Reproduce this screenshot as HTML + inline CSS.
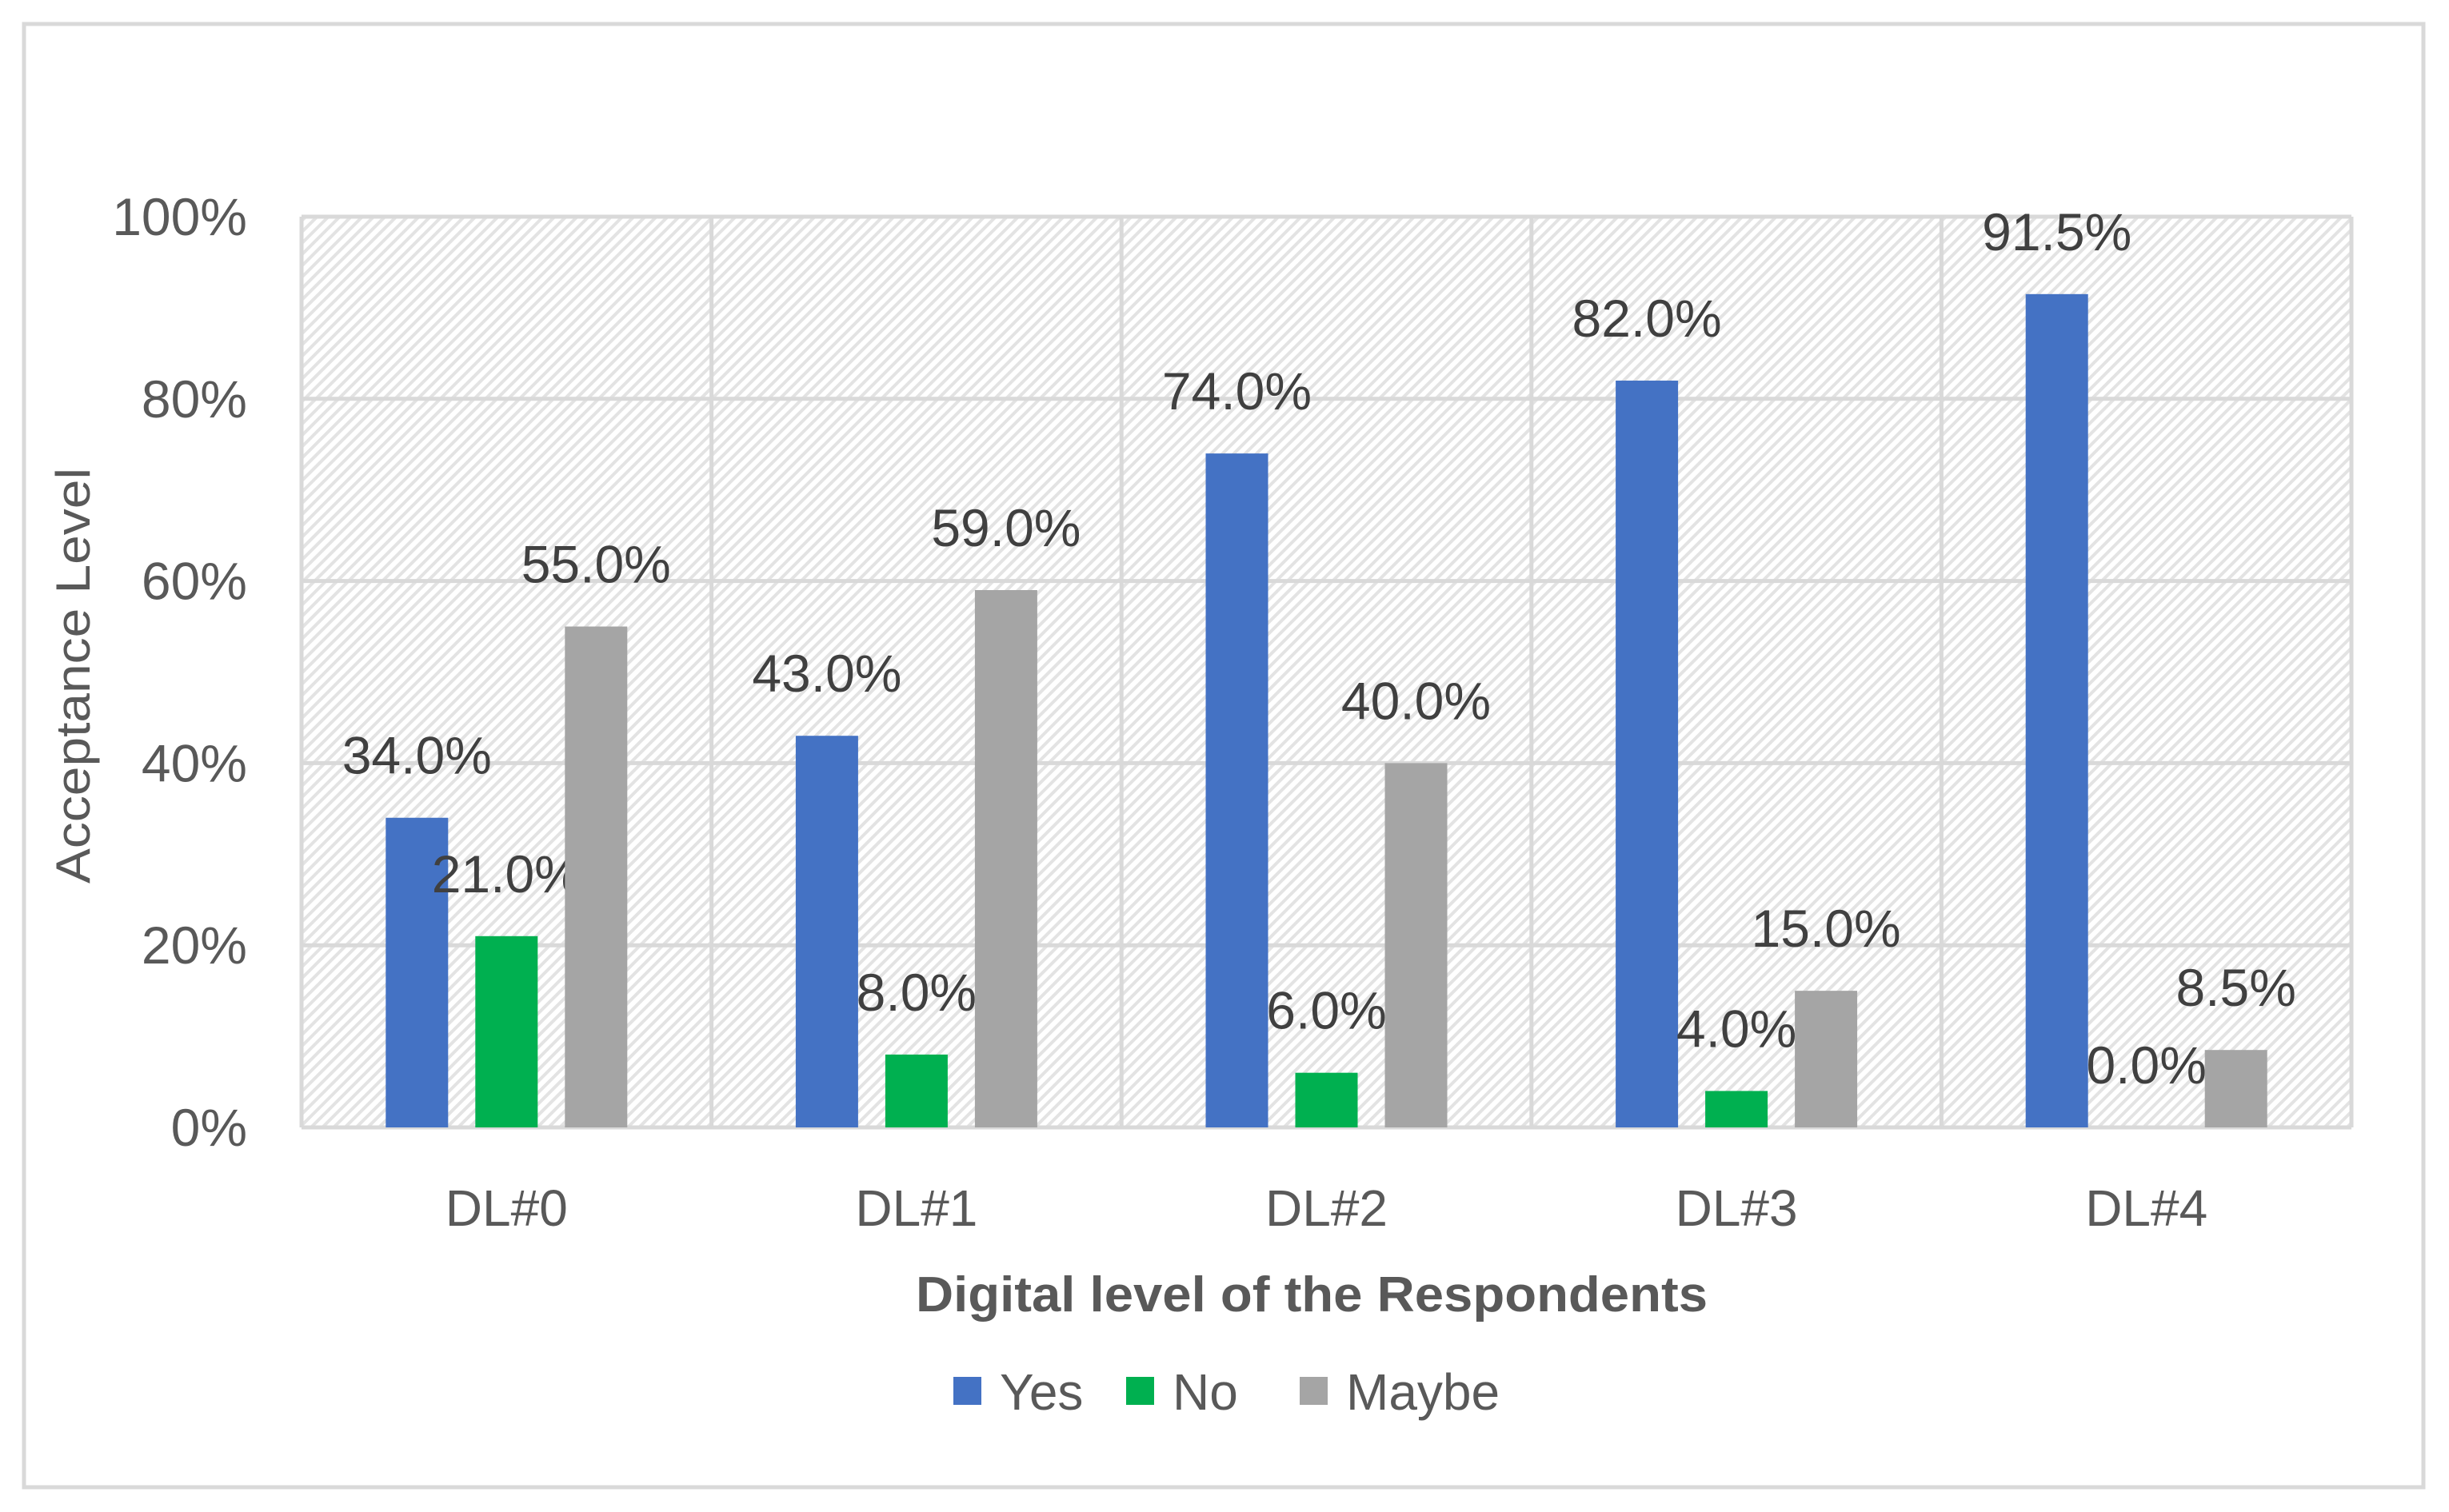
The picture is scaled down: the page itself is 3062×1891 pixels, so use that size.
<!DOCTYPE html>
<html><head><meta charset="utf-8"><style>
html,body{margin:0;padding:0;background:#fff}
svg{display:block}
text{font-family:"Liberation Sans",sans-serif}
</style></head><body>
<svg id="chart" width="3062" height="1891" viewBox="0 0 3062 1891" xmlns="http://www.w3.org/2000/svg">
<defs>
<pattern id="hatch" patternUnits="userSpaceOnUse" width="10" height="10" patternTransform="rotate(45)">
<rect width="10" height="10" fill="#ffffff"/>
<rect width="4" height="10" fill="#e3e3e3"/>
</pattern>
</defs>
<rect x="30" y="30" width="3000" height="1830" fill="#fff" stroke="#d9d9d9" stroke-width="5"/>
<g id="plot"></g>
</svg>
<script>
const categories = ["DL#0","DL#1","DL#2","DL#3","DL#4"];
const yesValues = [34.0,43.0,74.0,82.0,91.5];
const noValues = [21.0,8.0,6.0,4.0,0.0];
const maybeValues = [55.0,59.0,40.0,15.0,8.5];
const yTicks = [0,20,40,60,80,100];
const seriesNames = ["Yes","No","Maybe"];
const seriesColors = ["#4472c4","#00b050","#a5a5a5"];

const NS="http://www.w3.org/2000/svg";
const svg=document.getElementById('chart');
const g=document.getElementById('plot');
const L=377,R=2940,T=271,B=1410;
const yScale=v=>B-(v/100)*(B-T);
const catW=(R-L)/categories.length;
const xCenter=i=>L+catW*(i+0.5);
const barW=78, step=112;
function mk(tag,attrs,parent){const e=document.createElementNS(NS,tag);for(const k in attrs)e.setAttribute(k,attrs[k]);(parent||g).appendChild(e);return e;}

const bg=mk('rect',{x:L,y:T,width:R-L,height:B-T,fill:'url(#hatch)'});


yTicks.forEach(t=>{
  const y=yScale(t);
  const ln=mk('line',{x1:L,x2:R,y1:y,y2:y,stroke:'#d9d9d9','stroke-width':5});
  
  
  const tx=mk('text',{x:L-68,y:y+23,'text-anchor':'end','font-size':66,fill:'#595959'});
  tx.textContent=t+'%';
  
  
});
for(let i=0;i<=categories.length;i++){
  const x=L+catW*i;
  const ln=mk('line',{x1:x,x2:x,y1:T,y2:B,stroke:'#d9d9d9','stroke-width':5});
  
  
}
const series=[yesValues,noValues,maybeValues];
categories.forEach((c,i)=>{
  series.forEach((vals,s)=>{
    const cx=xCenter(i)+(s-1)*step;
    const v=vals[i];
    const r=mk('rect',{x:cx-barW/2,y:yScale(v),width:barW,height:B-yScale(v),fill:seriesColors[s]});
    
    
    const lb=mk('text',{x:cx,y:yScale(v)-55,'text-anchor':'middle','font-size':66,fill:'#404040'});
    lb.textContent=v.toFixed(1)+'%';
    
    
  });
  const xl=mk('text',{x:xCenter(i),y:1533,'text-anchor':'middle','font-size':64,fill:'#595959'});
  xl.textContent=c;
  
  
});
const yt=mk('text',{x:0,y:0,'text-anchor':'middle','font-size':60,fill:'#595959',transform:'translate(112,845) rotate(-90)',textLength:520,lengthAdjust:'spacingAndGlyphs'},svg);
yt.textContent='Acceptance Level';


const xt=mk('text',{x:1640,y:1640,'text-anchor':'middle','font-size':62,'font-weight':'bold',fill:'#595959',textLength:990,lengthAdjust:'spacingAndGlyphs'},svg);
xt.textContent='Digital level of the Respondents';


const legX=[1192,1408,1625];
seriesNames.forEach((n,s)=>{
  const sq=mk('rect',{x:legX[s],y:1722,width:35,height:35,fill:seriesColors[s]},svg);
  
  
  const t=mk('text',{x:legX[s]+58,y:1763,'font-size':64,fill:'#595959'},svg);
  t.textContent=n;
  
  
});
</script>
</body></html>
